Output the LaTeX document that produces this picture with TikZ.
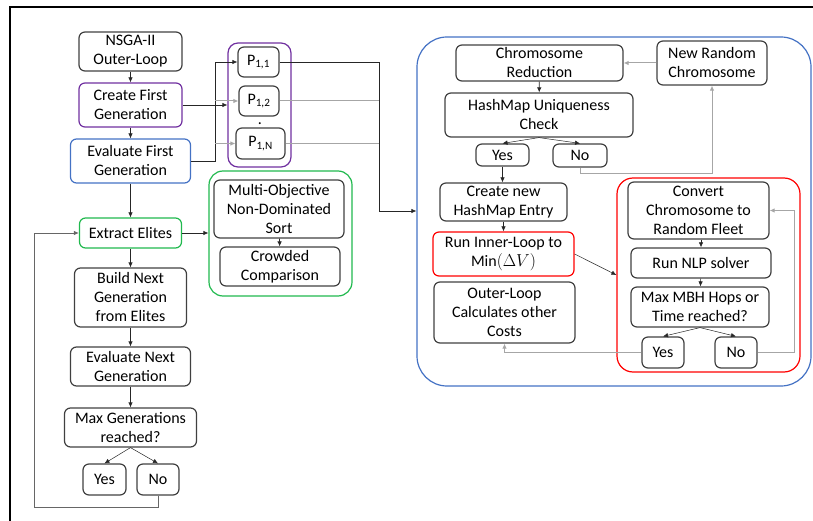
\documentclass[tikz,border=0pt]{standalone}
\usepackage{fontspec}
\setmainfont{Carlito}
\usetikzlibrary{arrows.meta}
\definecolor{cpurple}{HTML}{7030A0}
\definecolor{cgreen}{HTML}{21B94E}
\definecolor{cblue}{HTML}{4472C4}
\definecolor{cred}{HTML}{FF0000}
\definecolor{cbord}{HTML}{404040}
\definecolor{clight}{HTML}{A6A6A6}
\begin{document}
\begin{tikzpicture}[x=1pt,y=-1pt,
  box/.style={draw=cbord, line width=1.2pt, rounded corners=6pt, align=center,
    inner sep=0pt, font=\fontsize{16}{19}\selectfont},
  group/.style={draw, line width=1.2pt, inner sep=0pt},
  arr/.style={draw=black!85, line width=0.7pt, -{Latex[length=5pt,width=4.5pt]}},
  garr/.style={arr, draw=clight, line width=1pt},
  gline/.style={draw=clight, line width=1pt}]
\useasboundingbox (0,0) rectangle (813,521);

% page frame edges
\draw[line width=1.2pt] (10,521) -- (10,7) -- (813,7);

% ---------- containers ----------
\node[group, draw=cpurple, rounded corners=10pt, minimum width=63pt, minimum height=124pt] (pc) at (259.5,105) {};
\node[group, draw=cgreen, rounded corners=14pt, minimum width=143pt, minimum height=125pt] (gc) at (280.5,233.5) {};
\node[group, draw=cblue, rounded corners=30pt, minimum width=394pt, minimum height=349pt] (bc) at (614,211.5) {};
\node[group, draw=cred, rounded corners=16pt, minimum width=183pt, minimum height=194pt] (rc) at (708.5,275) {};

% ---------- outer loop column ----------
\node[box, minimum width=103pt, minimum height=39pt] (nsga) at (130.5,51.5) {NSGA-II\\Outer-Loop};
\node[box, draw=cpurple, minimum width=103pt, minimum height=44pt] (cfg) at (130.5,105) {Create First\\Generation};
\node[box, draw=cblue, minimum width=120pt, minimum height=44pt] (efg) at (130.5,161) {Evaluate First\\Generation};
\node[box, draw=cgreen, minimum width=102pt, minimum height=30pt] (ee) at (130.5,233) {Extract Elites};
\node[box, minimum width=112pt, minimum height=59pt] (bng) at (130.5,297.5) {Build Next\\Generation\\from Elites};
\node[box, minimum width=120pt, minimum height=39pt] (eng) at (130.5,366.5) {Evaluate Next\\Generation};
\node[box, minimum width=132pt, minimum height=39pt] (mgr) at (130.5,427.5) {Max Generations\\reached?};
\node[box, minimum width=43pt, minimum height=31pt] (yes1) at (104.5,479.5) {Yes};
\node[box, minimum width=42pt, minimum height=31pt] (no1) at (158,479.5) {No};

% ---------- population members ----------
\node[box, minimum width=41pt, minimum height=30pt] (p11) at (258.5,62) {P\textsubscript{1,1}};
\node[box, minimum width=40pt, minimum height=30pt] (p12) at (259,101) {P\textsubscript{1,2}};
\node[box, minimum width=49pt, minimum height=31pt] (p1n) at (260.5,143.5) {P\textsubscript{1,N}};
\node[inner sep=0pt, anchor=base, font=\fontsize{16}{19}\selectfont] (pdot) at (260,124.5) {.};

% ---------- sorting ----------
\node[box, minimum width=130pt, minimum height=58pt] (mos) at (279,209) {Multi-Objective\\Non-Dominated\\Sort};
\node[box, minimum width=120pt, minimum height=39pt] (cc) at (280,266.5) {Crowded\\Comparison};

% ---------- chromosome evaluation ----------
\node[box, minimum width=167pt, minimum height=36pt] (cr) at (539.5,63) {Chromosome\\Reduction};
\node[box, minimum width=110pt, minimum height=44pt] (nrc) at (712,63) {New Random\\Chromosome};
\node[box, minimum width=188pt, minimum height=44pt] (hmc) at (539,115) {HashMap Uniqueness\\Check};
\node[box, minimum width=53pt, minimum height=22pt] (yes2) at (502.5,155) {Yes};
\node[box, minimum width=54pt, minimum height=23pt] (no2) at (580,155.5) {No};
\node[box, minimum width=127pt, minimum height=38pt] (chme) at (503.5,202) {Create new\\HashMap Entry};
\node[box, draw=cred, minimum width=141pt, minimum height=44pt] (ril) at (503.5,254) {Run Inner-Loop to\\$\mathrm{Min}(\Delta V)$};
\node[box, minimum width=141pt, minimum height=61pt] (olc) at (504.5,312.5) {Outer-Loop\\Calculates other\\Costs};

% ---------- inner loop ----------
\node[box, minimum width=141pt, minimum height=57pt] (conv) at (698.5,210.5) {Convert\\Chromosome to\\Random Fleet};
\node[box, minimum width=140pt, minimum height=30pt] (nlp) at (701,263) {Run NLP solver};
\node[box, minimum width=138pt, minimum height=40pt] (mbh) at (700,307) {Max MBH Hops or\\Time reached?};
\node[box, minimum width=42pt, minimum height=31pt] (yes3) at (663,352.5) {Yes};
\node[box, minimum width=42pt, minimum height=31pt] (no3) at (736,352.5) {No};

% ---------- connectors: outer loop ----------
\draw[arr] (nsga) -- (cfg);
\draw[arr] (cfg) -- (efg);
\draw[arr] (efg) -- (ee);
\draw[arr] (ee) -- (bng);
\draw[arr] (bng) -- (eng);
\draw[arr] (eng) -- (mgr);
\draw[arr, line width=0.5pt] (mgr.south) -- (yes1.north);
\draw[arr, line width=0.5pt] (mgr.south) -- (no1.north);
\coordinate (lpb) at (34,507);
\draw[arr, draw=black!60, line width=0.9pt] (no1.south) |- (lpb) |- (ee.west);
\draw[arr] (ee.east) -- (ee.east -| gc.west);
\draw[arr] (mos) -- (cc);

% population distribution
\draw[arr] (cfg.east) -- (cfg.east -| pc.west);
\coordinate (br) at (215,161);
\draw[arr] (efg.east) -- (br) |- (p11.west);
\draw[garr] (br |- p12.west) -- (p12.west);
\draw[garr] (br |- p1n.west) -- (p1n.west);
\coordinate (mg) at (379,211);
\draw[arr] (p11.east) -| (mg) -- (mg -| bc.west);
\draw[gline] (p12.east) -- (p12.east -| mg);
\draw[gline] (p1n.east) -- (p1n.east -| mg);

% ---------- connectors: chromosome evaluation ----------
\draw[garr] (nrc.west) -- (cr.east);
\draw[arr] (cr) -- (hmc);
\draw[arr, line width=0.5pt] (hmc.south) -- (yes2.north);
\draw[arr, line width=0.5pt] (hmc.south) -- (no2.north);
\draw[garr] (no2.south) -- ++(0,6) -| (nrc.south);
\draw[arr] (yes2.south) -- (chme.north -| yes2.south);
\draw[arr] (chme) -- (ril);
\draw[arr, line width=0.5pt] (ril.east) -- (rc.west);

% ---------- connectors: inner loop ----------
\draw[arr] (conv.south -| nlp.north) -- (nlp.north);
\draw[arr] (nlp) -- (mbh);
\draw[arr, line width=0.5pt] (mbh.south) -- (yes3.north);
\draw[arr, line width=0.5pt] (mbh.south) -- (no3.north);
\draw[garr] (yes3.west) -| (olc.south);
\draw[garr] (no3.east) -- ++(37,0) |- (conv.east);
\end{tikzpicture}
\end{document}
